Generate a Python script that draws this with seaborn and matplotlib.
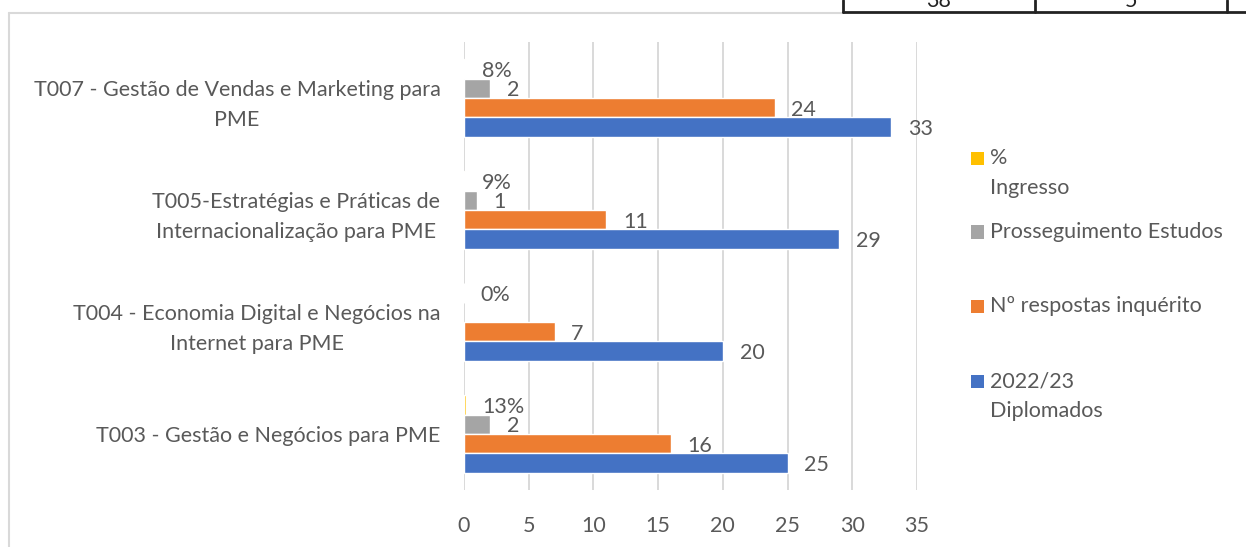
import matplotlib
matplotlib.use("Agg")
import matplotlib.pyplot as plt
from matplotlib.patches import Rectangle
from matplotlib.lines import Line2D
import pandas as pd
import seaborn as sns

cursos = ["T007 - Gestão de Vendas e Marketing para\nPME",
          "T005-Estratégias e Práticas de\nInternacionalização para PME",
          "T004 - Economia Digital e Negócios na\nInternet para PME",
          "T003 - Gestão e Negócios para PME"]
series = ["% Ingresso", "Prosseguimento Estudos", "Nº respostas inquérito", "2022/23 Diplomados"]
legenda = ["%\nIngresso", "Prosseguimento Estudos", "Nº respostas inquérito", "2022/23\nDiplomados"]
ingresso = [0.08, 0.09, 0.0, 0.13]
prosseguimento = [2, 1, None, 2]
respostas = [24, 11, 7, 16]
diplomados = [33, 29, 20, 25]
cores = ["#FFC000", "#A5A5A5", "#ED7D31", "#4472C4"]
xticks = [0, 5, 10, 15, 20, 25, 30, 35]
tabela = ["38", "5"]

rows = []
for s, vals in zip(series, [ingresso, prosseguimento, respostas, diplomados]):
    for c, v in zip(cursos, vals):
        rows.append({"curso": c, "serie": s, "valor": v})
df = pd.DataFrame(rows)

sns.set_style("white")
plt.rcParams["font.family"] = ["Lato", "DejaVu Sans"]
txt = "#595959"
fs = 15.5
W, H = 1246, 547

fig = plt.figure(figsize=(W / 100, H / 100), dpi=100)
ax = fig.add_axes([464 / W, 1 - 490 / H, (917 - 464) / W, (490 - 42) / H])

sns.barplot(data=df.dropna(), y="curso", x="valor", hue="serie", order=cursos,
            hue_order=series, palette=cores, orient="h", width=0.69,
            errorbar=None, saturation=1, ax=ax, legend=False)

for i, cont in enumerate(ax.containers):
    if i == 0:
        fmt = lambda v: f"{v:.0%}"
    else:
        fmt = lambda v: f"{v:.0f}"
    lbls = ax.bar_label(cont, fmt=fmt, padding=12, fontsize=fs, color=txt)
    for l in lbls:
        l.set_y(-1.5)  # ligeiramente abaixo do centro, como no Excel

ax.set_xlim(0, 35)
ax.set_xticks(xticks)
ax.set_ylim(3.5, -0.5)
ax.grid(axis="x", color="#D9D9D9", lw=1.4)
ax.grid(axis="y", visible=False)
ax.set_axisbelow(True)
for sp in ax.spines.values():
    sp.set_visible(False)
ax.set_xlabel("")
ax.set_ylabel("")
ax.tick_params(axis="x", length=0, pad=19, labelsize=fs, labelcolor=txt)
ax.tick_params(axis="y", length=0, pad=17, labelsize=fs, labelcolor=txt)
for lab in ax.get_yticklabels():
    lab.set_multialignment("center")
    lab.set_linespacing(1.6)


def fx(x):
    return x / W


def fy(y):
    return 1 - y / H


# legenda manual
leg_y = [158, 232, 306, 381]
for cor, lab, y in zip(cores, legenda, leg_y):
    fig.add_artist(Rectangle((fx(971), fy(y + 6.5)), 13 / W, 13 / H,
                             facecolor=cor, edgecolor="none", transform=fig.transFigure))
    fig.text(fx(990), fy(y - 10), lab, fontsize=fs, color=txt, ha="left", va="top",
             linespacing=1.65)

# moldura cinzenta do gráfico
fig.add_artist(Line2D([fx(9), fx(9)], [fy(13), 0], color="#D9D9D9", lw=1.5))
fig.add_artist(Line2D([fx(9), fx(843)], [fy(13), fy(13)], color="#D9D9D9", lw=1.5))

# tabela cortada no topo
fig.add_artist(Line2D([fx(843), 1], [fy(12), fy(12)], color="#222222", lw=2))
for xv in [843, 1035, 1227]:
    fig.add_artist(Line2D([fx(xv), fx(xv)], [1, fy(12)], color="#222222", lw=2))
for t, xc in zip(tabela, [939, 1131]):
    fig.text(fx(xc), fy(7), t, fontsize=fs, color="#222222", ha="center", va="baseline")

fig.savefig("out.png", dpi=100)
